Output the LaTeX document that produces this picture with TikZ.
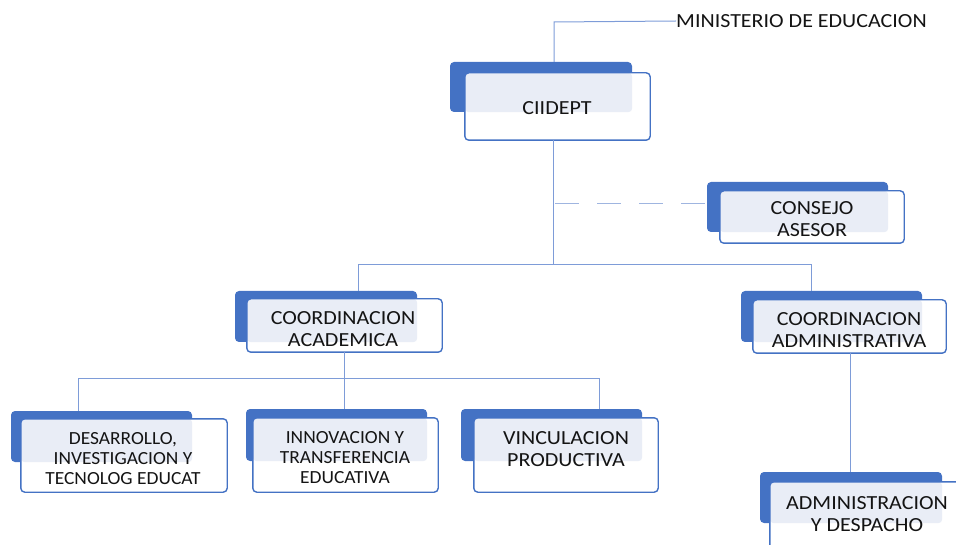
\documentclass[tikz,border=0pt]{standalone}
\usepackage{fontspec}
\setmainfont{Carlito}
\newfontfamily\widefont[FakeStretch=1.1]{Carlito}
\newfontfamily\semiwidefont[FakeStretch=1.05]{Carlito}
\usetikzlibrary{fit}
\definecolor{bblue}{HTML}{4472C4}
\definecolor{lfill}{HTML}{E9EDF6}
\definecolor{lline}{HTML}{7E9CD8}
\definecolor{dline}{HTML}{9FB5E0}
\definecolor{txt}{HTML}{141414}
\tikzset{
  backbox/.style={fill=bblue, draw=none, rounded corners=4pt, inner sep=0pt},
  frontbox/.style={fill=white, draw=none, rounded corners=4pt, inner sep=0pt},
  frontline/.style={draw=bblue, line width=1.4pt, rounded corners=4pt},
  conn/.style={draw=lline, line width=1pt},
  dconn/.style={draw=dline, line width=1pt, dash pattern=on 24pt off 18pt},
  lbl/.style={text=txt, align=center, inner sep=0pt, font=\widefont\fontsize{20}{22}\selectfont},
  slbl/.style={text=txt, align=center, inner sep=0pt, font=\semiwidefont\fontsize{18.5}{20}\selectfont},
}
\newcommand\orgbox[5]{%
  \node[backbox, fit={#2 #3}] (#1-b) {};
  \node[frontbox, fit={#4 #5}] (#1) {};
  \fill[lfill, rounded corners=4pt] (#1.north west) rectangle (#1-b.south east);
  \draw[frontline] (#1.north west) rectangle (#1.south east);
}
\begin{document}
\begin{tikzpicture}[x=1pt,y=-1pt]
\useasboundingbox (0,0) rectangle (956,545);
\clip (0,0) rectangle (956,545);
% boxes
\orgbox{cii}{(450,62)}{(632,112)}{(465,73)}{(650,140)}
\orgbox{con}{(707,182)}{(888,232)}{(720,191)}{(904,243)}
\orgbox{ca}{(235,291)}{(417,342)}{(247,299)}{(442,352)}
\orgbox{cd}{(741,291)}{(922,342)}{(753,300)}{(946,353)}
\orgbox{des}{(11,411)}{(192,462)}{(21,419)}{(227,492)}
\orgbox{inn}{(246,409)}{(427,461)}{(253,418)}{(438,492)}
\orgbox{vin}{(461,409)}{(642,461)}{(474,418)}{(658,492)}
\orgbox{adm}{(760,472)}{(942,523)}{(770,482)}{(975,560)}
% labels
\node[lbl, anchor=west] (min) at (676,21) {MINISTERIO DE EDUCACION};
\node[lbl] (cii-t) at (557,108) {CIIDEPT};
\node[lbl] (con-t) at (812,219.5) {CONSEJO\\ASESOR};
\node[lbl] (ca-t) at (343,329) {COORDINACION\\ACADEMICA};
\node[lbl] (cd-t) at (849,330) {COORDINACION\\ADMINISTRATIVA};
\node[slbl] (des-t) at (123,459) {DESARROLLO,\\INVESTIGACION Y\\TECNOLOG EDUCAT};
\node[slbl] (inn-t) at (345,457.5) {INNOVACION Y\\TRANSFERENCIA\\EDUCATIVA};
\node[lbl] (vin-t) at (566,449) {VINCULACION\\PRODUCTIVA};
\node[lbl] (adm-t) at (867,514) {ADMINISTRACION\\Y DESPACHO};
% junction coordinates
\coordinate (t1) at (554,22);
\coordinate (j1) at (553,265);
\coordinate (b1) at (358,265);
\coordinate (b2) at (811,265);
\coordinate (d1) at (555,204);
\coordinate (k0) at (344,378);
\coordinate (k1) at (78,378);
\coordinate (k2) at (599,378);
\coordinate (m1) at (850,400);
% connectors
\draw[conn] (cii-b.north -| t1) -- (t1) -- (min.west);
\draw[conn] (cii.south -| j1) -- (j1);
\draw[dconn] (d1) -- (d1 -| con-b.west);
\draw[conn] (ca-b.north -| b1) -- (b1) -- (b2) -- (cd-b.north -| b2);
\draw[conn] (ca.south -| k0) -- (inn-b.north -| k0);
\draw[conn] (des-b.north -| k1) -- (k1) -- (k2) -- (vin-b.north -| k2);
\draw[conn] (cd.south -| m1) -- (adm-b.north -| m1);
\end{tikzpicture}
\end{document}
